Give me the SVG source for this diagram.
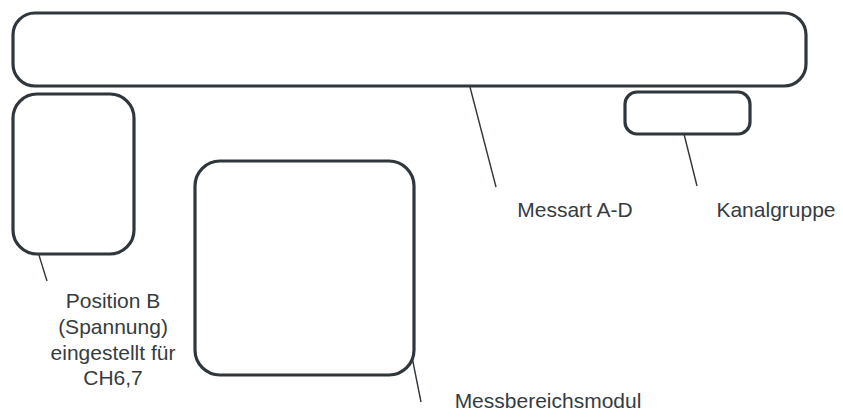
<svg xmlns="http://www.w3.org/2000/svg" width="843" height="419" viewBox="0 0 843 419">
<style>
.box{fill:#ffffff;stroke:#2f373c;stroke-width:3.2}
.lead{stroke:#2f373c;stroke-width:1.4;fill:none}
.lbl{font-family:"Liberation Sans",Arial,sans-serif;font-size:21px;fill:#353c41}
</style>
<rect width="843" height="419" fill="#ffffff"/>
<g id="connectors">
<line class="lead" x1="470" y1="87" x2="496" y2="187"/>
<line class="lead" x1="684" y1="134" x2="697" y2="186"/>
<line class="lead" x1="38" y1="252" x2="47" y2="281"/>
<line class="lead" x1="412" y1="357" x2="421" y2="402"/>
</g>
<g id="messart">
<rect class="box" x="13" y="13" width="793" height="73" rx="22" ry="22"/>
<text class="lbl" x="575" y="217" text-anchor="middle">Messart A-D</text>
</g>
<g id="kanalgruppe">
<rect class="box" x="625" y="92" width="125" height="42" rx="12" ry="12"/>
<text class="lbl" x="776" y="217" text-anchor="middle">Kanalgruppe</text>
</g>
<g id="position">
<rect class="box" x="13" y="94" width="121" height="160" rx="24" ry="24"/>
<text class="lbl" text-anchor="middle"><tspan x="113" y="308">Position B</tspan><tspan x="113" y="334">(Spannung)</tspan><tspan x="113" y="360">eingestellt für</tspan><tspan x="113" y="385">CH6,7</tspan></text>
</g>
<g id="messbereichsmodul">
<rect class="box" x="195" y="161" width="219" height="214" rx="25" ry="25"/>
<text class="lbl" x="548" y="408" text-anchor="middle">Messbereichsmodul</text>
</g>
</svg>
